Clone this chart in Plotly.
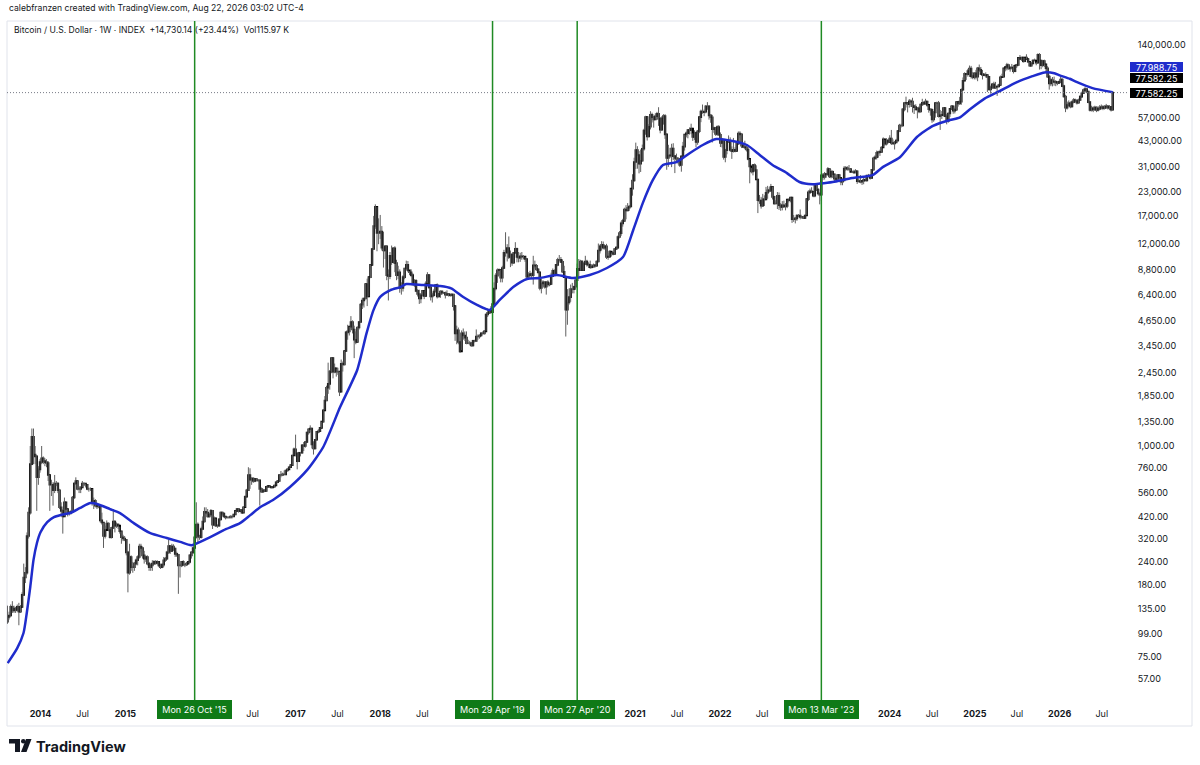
"""Bitcoin weekly chart, log scale, with moving average and signal dates."""

import pandas as pd
import plotly.graph_objects as go

# weekly candles (week starts Monday)
first_open = 115

# 2013, from Aug 12
close_2013 = [122, 124, 138, 132, 135, 133, 138, 130, 138, 160, 198, 210,
              330, 440, 800, 1120, 900, 880, 680, 750, 820]
high_2013 = [140, 130, 142, 148, 140, 138, 142, 145, 141, 165, 235, 225,
             345, 470, 1000, 1240, 1240, 1000, 890, 780, 850]
low_2013 = [112, 118, 122, 128, 128, 128, 130, 110, 128, 138, 158, 185,
            205, 320, 430, 790, 800, 800, 450, 620, 720]

close_2014 = [860, 830, 820, 810, 700, 620, 620, 580,
              630, 630, 580, 470, 450, 420, 500, 460, 440,
              440, 445, 530, 630, 650, 590, 590, 600, 630,
              630, 620, 590, 590, 590, 500, 510, 480,
              475, 475, 400, 390, 330, 355, 385, 355, 325,
              365, 395, 375, 380, 375, 350, 325, 320, 315]
high_2014 = [1000, 880, 860, 850, 830, 700, 660, 640,
             700, 650, 640, 590, 500, 460, 530, 500, 460,
             450, 455, 540, 640, 680, 650, 610, 610, 650,
             640, 630, 625, 600, 600, 590, 530, 520,
             495, 490, 480, 440, 390, 375, 400, 390, 365,
             370, 460, 400, 390, 385, 370, 350, 335, 330]
low_2014 = [800, 800, 780, 770, 650, 450, 540, 480,
            560, 610, 560, 460, 420, 340, 420, 440, 420,
            425, 430, 445, 520, 620, 580, 560, 560, 600,
            610, 600, 580, 570, 575, 480, 460, 470,
            460, 465, 390, 380, 285, 320, 360, 350, 320,
            320, 360, 345, 365, 360, 340, 300, 310, 310]

close_2015 = [270, 210, 255, 225, 225, 235, 245, 255,
              290, 285, 260, 250, 255, 235, 225, 230, 235,
              240, 237, 240, 230, 225, 232, 245, 250, 270,
              292, 275, 290, 283, 265, 262, 230, 230, 240,
              232, 232, 235, 240, 260, 270, 285, 325,
              380, 330, 325, 360, 395, 445, 440, 420, 430]
high_2015 = [318, 275, 300, 260, 240, 240, 250, 260,
             300, 300, 290, 275, 260, 260, 240, 235, 245,
             245, 245, 245, 242, 235, 235, 255, 255, 275,
             315, 295, 300, 298, 285, 272, 265, 235, 242,
             245, 235, 240, 242, 262, 272, 290, 330,
             500, 390, 335, 370, 420, 470, 470, 460, 440]
low_2015 = [260, 165, 205, 215, 210, 215, 230, 230,
            250, 270, 250, 235, 240, 230, 215, 215, 215,
            232, 232, 232, 225, 220, 222, 225, 240, 248,
            265, 265, 272, 275, 255, 255, 162, 198, 225,
            228, 225, 228, 235, 235, 250, 265, 280,
            320, 305, 315, 320, 355, 390, 430, 415, 415]

close_2016 = [450, 380, 410, 375, 375, 405, 440, 435, 420,
              415, 415, 415, 420, 420, 430, 450, 460,
              450, 455, 440, 470, 535, 580, 700, 660, 670,
              650, 665, 655, 655, 590, 570, 580, 575, 605,
              610, 605, 600, 605, 615, 640, 650, 700, 700,
              705, 705, 740, 750, 770, 790, 890, 960]
high_2016 = [460, 455, 420, 410, 380, 410, 445, 445, 440,
             420, 420, 420, 425, 425, 432, 452, 465,
             465, 460, 460, 475, 545, 590, 770, 760, 680,
             680, 670, 670, 665, 660, 600, 590, 585, 610,
             612, 610, 610, 610, 620, 645, 655, 705, 735,
             720, 740, 745, 755, 772, 795, 895, 980]
low_2016 = [425, 360, 375, 370, 365, 370, 400, 420, 415,
            405, 410, 410, 412, 410, 418, 428, 445,
            440, 448, 438, 440, 470, 535, 575, 590, 620,
            635, 640, 650, 645, 480, 565, 565, 570, 570,
            600, 600, 595, 598, 600, 615, 635, 645, 680,
            690, 700, 700, 730, 750, 765, 785, 890]

close_2017 = [910, 830, 920, 920, 1010, 1000, 1050, 1180, 1230,
              1240, 1020, 970, 1080, 1190, 1200, 1250, 1350,
              1550, 1750, 2050, 2150, 2500, 2950, 2500, 2600, 2500,
              2500, 1950, 2750, 2730, 3220, 4050, 4100, 4350, 4600,
              4200, 3700, 3600, 4300, 4600, 5700, 6000, 6150, 7350,
              6300, 8000, 9300, 11300, 15000, 19000, 13800, 13800]
high_2017 = [1150, 920, 930, 930, 1020, 1050, 1060, 1190, 1240,
             1290, 1250, 1060, 1090, 1200, 1230, 1260, 1350,
             1560, 1850, 2100, 2790, 2550, 2980, 2980, 2760, 2600,
             2620, 2500, 2900, 2830, 3220, 4100, 4450, 4350, 4950,
             4700, 4400, 4100, 4350, 4650, 5800, 6200, 6200, 7350,
             7850, 8000, 9350, 11400, 17000, 19600, 19000, 16500]
low_2017 = [880, 750, 820, 880, 910, 940, 980, 1040, 1150,
            1180, 970, 900, 960, 1070, 1170, 1190, 1250,
            1340, 1550, 1740, 1900, 2000, 2450, 2300, 2450, 2350,
            2400, 1850, 1950, 2500, 2700, 3200, 3700, 3900, 4200,
            4000, 2950, 3500, 3600, 4200, 4550, 5400, 5500, 6100,
            5600, 6300, 7900, 9300, 11200, 14500, 11000, 12000]

close_2018 = [14000, 11500, 11100, 11700, 8200, 8100, 10400, 9600, 11400,
              9500, 8200, 8500, 7000, 7000, 8000, 8900, 9300, 8700,
              8500, 8200, 7300, 7650, 6750, 6500, 6150, 6400,
              6750, 6350, 7400, 8200, 7050, 6300, 6400, 6700, 7250,
              6300, 6500, 6700, 6600, 6600, 6450, 6500, 6450, 6400,
              6450, 5600, 4000, 4150, 3600, 3200, 4000, 3900, 3800]
high_2018 = [17200, 15000, 14000, 11800, 11800, 8800, 10900, 11800, 11500,
             11700, 9900, 9200, 8800, 7500, 8200, 8950, 9800, 9750,
             8600, 8800, 8400, 7800, 7800, 6900, 6850, 6550,
             6800, 6800, 7600, 8500, 8300, 7150, 6600, 6900, 7300,
             7400, 6550, 6800, 6800, 6650, 6700, 6800, 6550, 6500,
             6550, 6500, 5600, 4400, 4300, 3650, 4150, 4250, 4100]
low_2018 = [12800, 11100, 9000, 10000, 7700, 6000, 7800, 9300, 9500,
            8500, 7700, 7800, 6600, 6450, 6700, 7800, 8700, 8500,
            8200, 8000, 7300, 7100, 6650, 6300, 5750, 5800,
            6300, 6100, 6300, 7400, 6950, 6000, 5850, 6300, 6650,
            6150, 6250, 6200, 6450, 6500, 6150, 6350, 6300, 6280,
            6300, 5300, 3650, 3500, 3500, 3150, 3250, 3700, 3650]

close_2019 = [3550, 3550, 3550, 3450, 3650, 3650, 3850, 3850,
              3900, 4000, 4000, 4100, 5050, 5150, 5350, 5200, 5750,
              6950, 8150, 8700, 8750, 7950, 8950, 10800, 10800,
              11450, 10250, 10550, 9550, 10800, 11350, 10250, 10150, 10350,
              10300, 10300, 10000, 8050, 8200, 8300, 8200, 9250, 9200,
              8800, 8500, 7000, 7400, 7500, 7100, 7500, 7300, 7350]
high_2019 = [4100, 3700, 3650, 3600, 3700, 3700, 4200, 3950,
             3950, 4050, 4100, 4150, 5100, 5450, 5400, 5600, 5850,
             7500, 8400, 8900, 8900, 8800, 9200, 11200, 13900,
             12000, 13200, 11100, 10700, 10900, 12300, 11500, 10900, 10800,
             10900, 10500, 10300, 10100, 8500, 8650, 8450, 10400, 9800,
             9400, 8850, 8550, 7850, 7700, 7550, 7550, 7700, 7500]
low_2019 = [3500, 3500, 3450, 3400, 3400, 3580, 3600, 3700,
            3750, 3850, 3950, 3950, 4100, 4900, 5100, 5100, 5150,
            5700, 6800, 7450, 8200, 7500, 7500, 8900, 10300,
            9700, 10000, 9050, 9200, 9450, 10800, 9600, 9600, 9650,
            9900, 9950, 9650, 7800, 7750, 7850, 7900, 7300, 8900,
            8650, 8300, 6800, 6550, 7150, 6950, 6450, 7100, 7150]

close_2020 = [8100, 8650, 8350, 9300, 9900, 9900, 9650, 8550,
              8000, 5350, 5850, 6250, 6900, 6900, 7100, 7700, 8850,
              8700, 9700, 8700, 9450, 9700, 9350, 9300, 9050, 9100,
              9250, 9200, 9700, 11100, 11680, 11900, 11500, 11700, 10250,
              10300, 10950, 10750, 10650, 11300, 11500, 13100, 13750,
              15500, 16000, 18400, 18200, 18800, 19100, 23800, 26300, 33000]
high_2020 = [8450, 8900, 8800, 9400, 10150, 10500, 10250, 9950,
             9200, 8050, 6900, 6950, 7300, 7450, 7200, 7750, 9450,
             10000, 9900, 9850, 9600, 10400, 9900, 9600, 9800, 9300,
             9450, 9400, 9800, 12100, 11950, 12450, 12400, 11800, 12050,
             10800, 11100, 10850, 11000, 11450, 11700, 13350, 14100,
             15900, 16400, 18800, 19400, 19900, 19400, 23800, 28400, 34800]
low_2020 = [7300, 8000, 8250, 8300, 9150, 9700, 9550, 8450,
            8000, 3850, 4450, 5700, 5900, 6550, 6550, 6850, 7650,
            8100, 8650, 8650, 8650, 9400, 9100, 8950, 8850, 8900,
            9050, 9000, 9100, 9600, 10700, 11100, 11250, 11200, 10000,
            9900, 10200, 10300, 10450, 10550, 11200, 11350, 12900,
            13300, 14900, 15800, 16300, 18100, 18100, 18950, 21800, 25900]

close_2021 = [38200, 36000, 32300, 33500, 38900, 48600, 57500, 45200,
              51000, 59000, 57400, 55800, 58000, 59800, 56200, 49100, 56600,
              58200, 46400, 34700, 35700, 35800, 39000, 35500, 34700, 34300,
              34300, 31800, 35400, 39900, 46300, 47000, 49000, 48800, 49900,
              45000, 47300, 42200, 48200, 57400, 61500, 60900, 61300,
              65500, 65500, 58600, 57300, 49400, 50100, 46700, 50800, 46200]
high_2021 = [41900, 40100, 37800, 38500, 40900, 49700, 58300, 57500,
             52600, 61700, 60600, 58400, 60100, 61200, 64800, 57500, 58000,
             59500, 59500, 46500, 40800, 39300, 41300, 41600, 36000, 36600,
             35100, 34700, 35400, 42300, 46400, 48100, 49500, 50500, 52900,
             47000, 48800, 48000, 49000, 57800, 62900, 67000, 63000,
             66400, 69000, 66300, 59200, 59000, 51000, 50600, 51800, 52000]
low_2021 = [30300, 30400, 28700, 29200, 33400, 37900, 46200, 43000,
            44900, 49300, 53700, 50400, 55500, 55500, 51500, 47000, 48500,
            52300, 43900, 30000, 31100, 34700, 31000, 33800, 28800, 32700,
            32100, 31100, 29300, 34800, 38000, 44700, 44200, 46300, 46500,
            42800, 43300, 39600, 40800, 47100, 53900, 59800, 58000,
            60100, 62800, 55600, 53500, 42000, 47300, 45600, 45600, 45800]

close_2022 = [41800, 43100, 35100, 38200, 42400, 42200, 38300, 37700, 38400,
              37800, 41300, 46800, 46400, 40400, 39700, 39500, 38500,
              34300, 31300, 29400, 31800, 29900, 26600, 20600, 20500, 19300,
              20850, 20800, 22600, 23300, 23200, 24300, 21500, 19800, 19800,
              21800, 19400, 19000, 19400, 19100, 19200, 20800, 20600, 21300,
              16300, 16300, 16500, 17100, 17100, 16800, 16800, 16600]
high_2022 = [47500, 44400, 43500, 38800, 42600, 45800, 44700, 40000, 44400,
             39600, 42300, 48100, 48200, 46900, 41500, 42900, 40800,
             40000, 34200, 30700, 32200, 32400, 31700, 26800, 22000, 21500,
             22300, 21900, 24300, 24600, 24200, 25200, 24400, 21800, 20600,
             22800, 22700, 19900, 20400, 20500, 19900, 20800, 21000, 21400,
             21400, 17200, 16800, 17300, 17400, 18400, 17000, 17000]
low_2022 = [39700, 39500, 34000, 32900, 36300, 41700, 37500, 34300, 37100,
            37200, 37700, 40900, 44300, 39200, 39200, 38600, 37600,
            33700, 25400, 28700, 28000, 29300, 26600, 17600, 19700, 18600,
            19000, 19200, 20800, 21000, 22700, 22800, 20800, 19500, 19600,
            18500, 18300, 18100, 18200, 18900, 18200, 18700, 20100, 20100,
            15600, 15800, 15500, 16000, 16700, 16300, 16400, 16400]

close_2023 = [17100, 20900, 22700, 23000, 22900, 21800, 24600, 23500, 22400,
              22100, 28000, 27500, 28500, 28300, 30300, 27600, 29300,
              28400, 26900, 26800, 28100, 27200, 25900, 26300, 30500, 30600,
              30300, 30300, 29200, 29200, 29000, 29400, 26100, 26000, 25900,
              26200, 26500, 26300, 27900, 27900, 27100, 30000, 34500, 35000,
              37000, 37300, 37400, 39500, 43700, 41400, 43000, 42300]
high_2023 = [17200, 21000, 23300, 23800, 24200, 23000, 25200, 25200, 23900,
             22600, 28500, 28800, 29200, 28800, 31000, 30500, 30000,
             29800, 28400, 27600, 28400, 28400, 27300, 27000, 31400, 31400,
             31300, 31800, 30400, 29700, 30000, 30200, 29700, 26800, 28100,
             26400, 27500, 27400, 28000, 28500, 28000, 30300, 35200, 35900,
             38000, 37900, 38400, 40000, 44700, 43400, 44300, 43800]
low_2023 = [16500, 17100, 20400, 22300, 22700, 21400, 21400, 23100, 21900,
            19600, 20400, 26500, 26600, 27200, 28000, 27100, 27000,
            27100, 25800, 26600, 26200, 26700, 24800, 24800, 26200, 29600,
            29700, 29500, 29500, 28900, 28600, 28800, 25200, 25800, 25400,
            24900, 25100, 26200, 26000, 27300, 26600, 26800, 29900, 34100,
            34100, 34800, 35600, 37000, 39500, 40300, 40500, 41500]

close_2024 = [44000, 41700, 41500, 42000, 43000, 48300, 51700, 51700, 63100,
              68300, 68400, 67200, 69700, 69400, 65700, 64900, 63100, 64000,
              61500, 67000, 68500, 67700, 69600, 66700, 63200, 62700,
              55800, 60800, 68200, 68200, 58100, 58700, 59000, 64200, 58000,
              54800, 60000, 63500, 65600, 62100, 62900, 69000, 67900, 69400,
              80400, 89800, 97900, 97200, 101200, 104400, 95000, 93700, 98300]
high_2024 = [45900, 49000, 43600, 42800, 43900, 48600, 52800, 52900, 64000,
             69200, 73800, 68900, 71700, 71300, 72800, 66900, 67200, 64700,
             65500, 67700, 71900, 70000, 71900, 70000, 66500, 63400,
             63800, 61900, 68400, 69400, 70000, 62700, 61800, 64900, 64500,
             59800, 60600, 64100, 66500, 65600, 64500, 69400, 69500, 73600,
             81800, 93500, 99600, 98700, 103900, 108300, 107800, 99900, 99000]
low_2024 = [42200, 40700, 40900, 38500, 41800, 42200, 47700, 50500, 50900,
            61600, 64600, 60800, 64500, 65100, 60700, 59600, 62800, 56500,
            60200, 60700, 65800, 66600, 67600, 65100, 60600, 58400,
            53500, 54200, 57000, 63500, 57100, 49000, 56100, 57800, 57300,
            52500, 53600, 57500, 62700, 59800, 60000, 62000, 65300, 66800,
            66800, 80200, 90100, 90700, 94500, 94100, 92200, 91500, 91300]

close_2025 = [94500, 104600, 102600, 97700, 96500, 96100, 96200, 94200,
              80700, 82600, 86000, 82300, 83500, 83700, 85200, 93700, 94300,
              104600, 106400, 109000, 104600, 105700, 105500, 100900, 108300, 109200,
              119000, 117300, 119400, 114200, 119300, 117400, 113500, 108200,
              111100, 115300, 115200, 112200, 123500, 115000, 108600, 114500, 110000,
              104700, 94500, 86800, 90500, 89000, 88500, 88000, 87500, 88500]
high_2025 = [102700, 106400, 109600, 106400, 102500, 98800, 99500, 96500,
             95000, 84500, 87400, 88700, 88500, 84000, 86500, 95700, 97900,
             104800, 105800, 111900, 110700, 106800, 110400, 108900, 108500, 110500,
             119500, 123200, 120200, 119800, 119400, 124400, 117600, 113500,
             113000, 116800, 117900, 113400, 125700, 126200, 115900, 116000, 116400,
             110000, 107500, 96700, 93000, 94000, 94500, 90500, 89500, 90000]
low_2025 = [91200, 89300, 100000, 97800, 91200, 94800, 93400, 78200,
            80000, 76600, 81200, 81600, 81200, 74500, 83100, 85200, 93400,
            93400, 100800, 102000, 103100, 100400, 103300, 98200, 99700, 105100,
            107500, 115700, 114700, 112000, 112700, 117200, 111600, 107300,
            107300, 110600, 114800, 108600, 111600, 103000, 103500, 106000, 106300,
            98900, 93500, 80500, 84000, 83800, 84500, 84000, 85000, 86500]

# 2026, up to the week of Aug 17
close_2026 = [91000, 84000, 74000, 64500, 66500, 68000, 65500, 69000,
              70800, 70000, 68500, 70800, 73800, 77000, 80000, 81000, 78500,
              69000, 62700, 63900, 63000, 64500, 62700, 63500, 64500, 65000,
              64000, 65000, 65500, 64500, 65000, 62852.11, 77582.25]
high_2026 = [94500, 92500, 85500, 75500, 69500, 70500, 69500, 70500,
             72500, 72000, 71000, 72000, 75000, 78500, 81500, 83000, 82000,
             79000, 70000, 66000, 65500, 66000, 65500, 65500, 66500, 67000,
             66500, 66500, 67500, 66500, 66500, 65500, 78500]
low_2026 = [87500, 83000, 73000, 61000, 63000, 65000, 64000, 64500,
            68000, 68500, 67000, 68000, 70000, 73000, 76500, 78500, 77000,
            68000, 61500, 61500, 61000, 62000, 61000, 61500, 62500, 63000,
            62500, 63000, 63500, 63000, 62500, 61500, 62500]

# moving average (blue), read at roughly monthly points
ma_dates = ["2013-08-13", "2013-09-23", "2013-10-20", "2013-11-03", "2013-11-18", "2013-12-02", "2013-12-17",
            "2014-01-01", "2014-01-30", "2014-02-28", "2014-03-29", "2014-05-08", "2014-06-21", "2014-08-04",
            "2014-09-02", "2014-10-27", "2014-12-09",
            "2015-02-06", "2015-04-16", "2015-06-28", "2015-08-25", "2015-10-12",
            "2016-01-01", "2016-02-28", "2016-05-08", "2016-06-21", "2016-08-04", "2016-09-27", "2016-12-09",
            "2017-02-21", "2017-05-01", "2017-07-13", "2017-09-24", "2017-11-03", "2017-12-03",
            "2018-01-01", "2018-02-14", "2018-03-29", "2018-04-23", "2018-07-05", "2018-09-16", "2018-11-02",
            "2018-12-24",
            "2019-02-21", "2019-04-16", "2019-05-30", "2019-07-27", "2019-09-24", "2019-11-18",
            "2020-01-30", "2020-04-08", "2020-06-20", "2020-09-02", "2020-11-10", "2020-12-24",
            "2021-02-03", "2021-03-18", "2021-05-01", "2021-06-28", "2021-08-25", "2021-10-19", "2021-12-16",
            "2022-02-24", "2022-04-27", "2022-06-21", "2022-08-15", "2022-10-16", "2022-12-09",
            "2023-02-02", "2023-03-07", "2023-05-01", "2023-07-23", "2023-10-19", "2023-12-02",
            "2024-02-14", "2024-04-27", "2024-07-05", "2024-09-16", "2024-10-27", "2024-12-10",
            "2025-02-12", "2025-04-17", "2025-06-29", "2025-09-06", "2025-10-28", "2025-12-09",
            "2026-01-01", "2026-02-13", "2026-03-14", "2026-05-22", "2026-08-17"]
ma_values = [69, 83, 100, 128, 176, 246, 304,
             346, 392, 417, 428, 438, 467, 495,
             490, 460, 438,
             387, 343, 322, 307, 295,
             326, 355, 387, 427, 472, 514, 604,
             745, 988, 1620, 2550, 4000, 5330,
             6270, 6820, 7080, 7350, 7260, 7170, 6970,
             6260,
             5680, 5340, 6040, 7080, 7820, 7910,
             8210, 7910, 8210, 8950, 10240, 14300,
             19900, 26400, 31800, 33000, 36900, 40700, 43800,
             42800, 40700, 36000, 31800, 28800, 25800,
             25100, 25300, 25800, 27100, 28100, 31000,
             35000, 44900, 51500, 55400, 57000, 63000,
             72000, 79000, 88000, 95000, 99500, 98500,
             96000, 92000, 88500, 82000, 77988.75]

signal_dates = ["2015-10-26", "2019-04-29", "2020-04-27", "2023-03-13"]
signal_labels = ["Mon 26 Oct '15", "Mon 29 Apr '19", "Mon 27 Apr '20", "Mon 13 Mar '23"]

xtick_dates = ["2014-01-01", "2014-07-01", "2015-01-01", "2016-07-01", "2017-01-01", "2017-07-01",
               "2018-01-01", "2018-07-01", "2021-01-01", "2021-07-01", "2022-01-01", "2022-07-01",
               "2024-01-01", "2024-07-01", "2025-01-01", "2025-07-01", "2026-01-01", "2026-07-01"]
xtick_text = ["<b>2014</b>", "Jul", "<b>2015</b>", "Jul", "<b>2017</b>", "Jul",
              "<b>2018</b>", "Jul", "<b>2021</b>", "Jul", "<b>2022</b>", "Jul",
              "<b>2024</b>", "Jul", "<b>2025</b>", "Jul", "<b>2026</b>", "Jul"]

ytick_vals = [57, 75, 99, 135, 180, 240, 320, 420, 560, 760, 1000, 1350, 1850, 2450, 3450,
              4650, 6400, 8800, 12000, 17000, 23000, 31000, 43000, 57000, 140000]

colors = {
    'text': '#131722',
    'candle': '#000000',
    'wick': '#5f5f5f',
    'ma': '#1f2ccc',
    'signal': '#1f8a24',
    'signal_box': '#0f7a17',
    'border': '#e0e3eb',
    'dots': '#787b86',
}

# build weekly table
year_starts = ["2013-08-12", "2014-01-06", "2015-01-05", "2016-01-04", "2017-01-02", "2018-01-01",
               "2019-01-07", "2020-01-06", "2021-01-04", "2022-01-03", "2023-01-02", "2024-01-01",
               "2025-01-06", "2026-01-05"]
closes = [close_2013, close_2014, close_2015, close_2016, close_2017, close_2018, close_2019,
          close_2020, close_2021, close_2022, close_2023, close_2024, close_2025, close_2026]
highs = [high_2013, high_2014, high_2015, high_2016, high_2017, high_2018, high_2019,
         high_2020, high_2021, high_2022, high_2023, high_2024, high_2025, high_2026]
lows = [low_2013, low_2014, low_2015, low_2016, low_2017, low_2018, low_2019,
        low_2020, low_2021, low_2022, low_2023, low_2024, low_2025, low_2026]

frames = []
for start, c, h, l in zip(year_starts, closes, highs, lows):
    n = min(len(c), len(h), len(l))
    frames.append(pd.DataFrame({
        'date': pd.date_range(start, periods=n, freq='7D'),
        'close': c[:n], 'high': h[:n], 'low': l[:n]
    }))
df = pd.concat(frames, ignore_index=True)
df['open'] = df['close'].shift(1).fillna(first_open)
df['top'] = df[['open', 'close']].max(axis=1)
df['bottom'] = df[['open', 'close']].min(axis=1)

# pixel helpers for the frame (plot area 7..1129 x 21..698)
PL, PR, PT, PB = 7, 1129, 21, 698


def px(x):
    return (x - PL) / (PR - PL)


def py(y):
    return (PB - y) / (PB - PT)


x_range = ['2013-08-10', '2026-10-26']

fig = go.Figure()

# wicks
fig.add_trace(go.Ohlc(
    x=df['date'], open=df['open'], high=df['high'], low=df['low'], close=df['close'],
    tickwidth=0,
    increasing={'line': {'color': colors['wick'], 'width': 1}},
    decreasing={'line': {'color': colors['wick'], 'width': 1}},
    hoverinfo='skip'
))
# bodies
fig.add_trace(go.Candlestick(
    x=df['date'], open=df['open'], high=df['top'], low=df['bottom'], close=df['close'],
    increasing={'line': {'color': colors['candle'], 'width': 1.6}, 'fillcolor': colors['candle']},
    decreasing={'line': {'color': colors['candle'], 'width': 1.6}, 'fillcolor': colors['candle']},
    whiskerwidth=0,
    hoverinfo='skip'
))

# moving average
fig.add_trace(go.Scatter(
    x=ma_dates, y=ma_values, mode='lines',
    line={'color': colors['ma'], 'width': 2.5, 'shape': 'spline', 'smoothing': 0.6},
    hoverinfo='skip'
))

# last price dotted line
last_close = close_2026[-1]
fig.add_trace(go.Scatter(
    x=x_range, y=[last_close, last_close], mode='lines',
    line={'color': colors['dots'], 'width': 1, 'dash': '1px,2px'},
    hoverinfo='skip'
))

# signal lines and labels
for d, label in zip(signal_dates, signal_labels):
    fig.add_shape(type='line', xref='x', yref='paper', x0=d, x1=d, y0=py(700), y1=1,
                  line={'color': colors['signal'], 'width': 1.5})
    fig.add_annotation(x=d, xref='x', y=py(710), yref='paper', text=label, showarrow=False,
                       font={'size': 9, 'color': 'white'}, bgcolor=colors['signal_box'],
                       width=67, height=11, borderpad=4, borderwidth=0, yanchor='middle')

# price labels on the right scale
price_labels = [(ma_values[-1], colors['ma'], 67.3), (last_close, '#000000', 78.3), (last_close, '#000000', 92.7)]
for value, bg, ypix in price_labels:
    fig.add_annotation(x=px(1130), xref='paper', y=py(ypix), yref='paper', xanchor='left', yanchor='middle',
                       text=f"{value:,.2f}", showarrow=False, font={'size': 9, 'color': 'white'},
                       bgcolor=bg, width=51, height=8, borderpad=1, borderwidth=0)

# header texts
fig.add_annotation(x=px(7), y=py(8), xref='paper', yref='paper', xanchor='left', yanchor='middle',
                   text="calebfranzen created with TradingView.com, Aug 22, 2026 03:02 UTC-4",
                   showarrow=False, font={'size': 8.6, 'color': colors['text']})
fig.add_annotation(x=px(12), y=py(30), xref='paper', yref='paper', xanchor='left', yanchor='middle',
                   text="Bitcoin / U.S. Dollar · 1W · INDEX\u00a0\u00a0+14,730.14 (+23.44%)\u00a0\u00a0Vol115.97\u00a0K",
                   showarrow=False, font={'size': 8.6, 'color': colors['text']})

# frame
fig.add_shape(type='rect', xref='paper', yref='paper', x0=px(7), x1=px(1192), y0=py(726), y1=py(21),
              line={'color': colors['border'], 'width': 1}, layer='below')

# TradingView logo
logo_t = f"M{px(9)},{py(739)} L{px(20)},{py(739)} L{px(20)},{py(752)} L{px(15)},{py(752)} " \
         f"L{px(15)},{py(743.5)} L{px(9)},{py(743.5)} Z"
logo_s = f"M{px(26)},{py(739)} L{px(31.5)},{py(739)} L{px(26.5)},{py(752)} L{px(21)},{py(752)} Z"
fig.add_shape(type='path', xref='paper', yref='paper', path=logo_t, fillcolor='#131722', line={'width': 0})
fig.add_shape(type='path', xref='paper', yref='paper', path=logo_s, fillcolor='#131722', line={'width': 0})
fig.add_shape(type='circle', xref='paper', yref='paper', x0=px(21), x1=px(25.6), y0=py(743.6), y1=py(739),
              fillcolor='#131722', line={'width': 0})
fig.add_annotation(x=px(34), y=py(746), xref='paper', yref='paper', xanchor='left', yanchor='middle',
                   text="<b>TradingView</b>", showarrow=False, font={'size': 14.5, 'color': '#131722'})

fig.update_xaxes(
    type='date', range=x_range, rangeslider={'visible': False},
    showgrid=False, zeroline=False, showline=False,
    tickmode='array', tickvals=xtick_dates, ticktext=xtick_text,
    ticks='outside', ticklen=7, tickcolor='rgba(0,0,0,0)',
    tickfont={'size': 9, 'color': colors['text']}
)
fig.update_yaxes(
    type='log', side='right', range=[1.6524, 5.2727],
    showgrid=False, zeroline=False, showline=False,
    tickmode='array', tickvals=ytick_vals, ticktext=[f"{v:,.2f}" for v in ytick_vals],
    ticks='outside', ticklen=6, tickcolor='rgba(0,0,0,0)',
    tickfont={'size': 9, 'color': colors['text']}
)
fig.update_layout(
    width=1200, height=765,
    margin={'l': PL, 'r': 1200 - PR, 't': PT, 'b': 765 - PB},
    paper_bgcolor='white', plot_bgcolor='white',
    showlegend=False, hovermode=False,
    font={'family': 'Inter, Roboto, sans-serif', 'color': colors['text']}
)

# page body has a default 8px margin; drop it so the figure sits at the window corner
fig.write_html("out.html", config={'displayModeBar': False},
               post_script="document.body.style.margin = '0';")
